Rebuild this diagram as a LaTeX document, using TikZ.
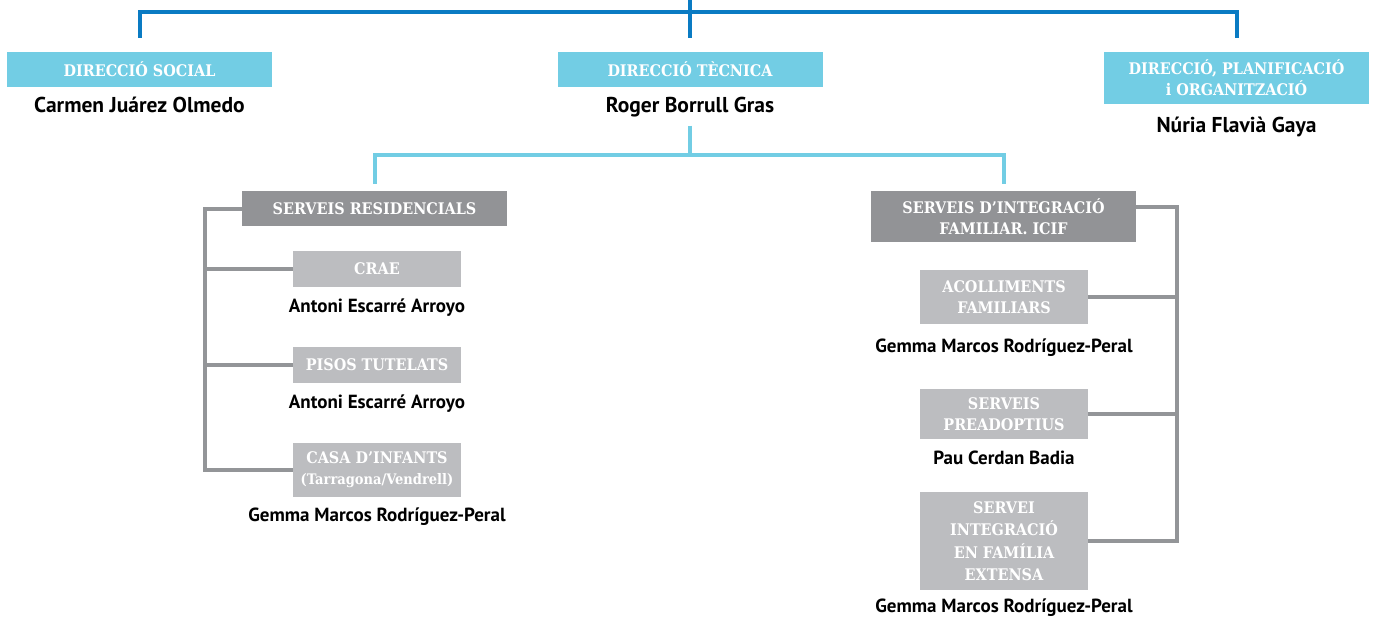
\documentclass[tikz,border=0pt]{standalone}
\usepackage{fontspec}
\setmainfont{PT Sans}
\newfontfamily\boxfont{DejaVu Serif Condensed}
\usetikzlibrary{positioning}
\definecolor{topblue}{HTML}{0A7BC3}
\definecolor{cyanbox}{HTML}{72CDE4}
\definecolor{darkbox}{HTML}{929396}
\definecolor{lightbox}{HTML}{BCBDC0}
\definecolor{linegray}{HTML}{939598}
\begin{document}
\begin{tikzpicture}[x=1pt,y=-1pt,
  head/.style={rectangle,fill=cyanbox,text=white,inner sep=0pt,align=center,
    minimum width=265pt,minimum height=35pt,
    font=\boxfont\bfseries\fontsize{16}{21}\selectfont},
  area/.style={head,fill=darkbox},
  unit/.style={head,fill=lightbox,minimum width=168pt,minimum height=36pt},
  who/.style={inner sep=0pt,font=\bfseries\fontsize{21.5}{24}\selectfont},
  staff/.style={who,font=\bfseries\fontsize{19}{22}\selectfont},
  topline/.style={draw=topblue,line width=4pt},
  midline/.style={draw=cyanbox,line width=4pt},
  grayline/.style={draw=linegray,line width=4pt}
  ]
  \useasboundingbox (0,0) rectangle (1375,618);
  % directions
  \node [head] (soc) at (139.5,69.5) {DIRECCIÓ SOCIAL};
  \node [head] (tec) at (690,69.5) {DIRECCIÓ TÈCNICA};
  \node [head,minimum height=52pt] (pla) at (1236.5,78) {DIRECCIÓ, PLANIFICACIÓ\\i ORGANITZACIÓ};
  \node [who,below=10pt of soc] (carmen) {Carmen Juárez Olmedo};
  \node [who,below=10pt of tec] (roger) {Roger Borrull Gras};
  \node [who,below=13pt of pla] (nuria) {Núria Flavià Gaya};
  % services
  \node [area] (res) at (374.5,208.5) {SERVEIS RESIDENCIALS};
  \node [area,minimum height=51pt] (icif) at (1003.5,216.5) {SERVEIS D’INTEGRACIÓ\\FAMILIAR. ICIF};
  \node [unit] (crae) at (377,269) {CRAE};
  \node [unit] (pisos) at (377,365) {PISOS TUTELATS};
  \node [unit,minimum height=54pt] (casa) at (377,470)
        {CASA D’INFANTS\\{\fontsize{14.5}{21}\selectfont(Tarragona/Vendrell)}};
  \node [unit,minimum height=54pt] (acoll) at (1004,297) {ACOLLIMENTS\\FAMILIARS};
  \node [unit,minimum height=50pt] (preadop) at (1004,414) {SERVEIS\\PREADOPTIUS};
  \node [unit,minimum height=98pt,font=\boxfont\bfseries\fontsize{16}{22.5}\selectfont]
        (ext) at (1004,541) {SERVEI\\INTEGRACIÓ\\EN FAMÍLIA\\EXTENSA};
  \node [staff,below=11pt of crae] (antoni1) {Antoni Escarré Arroyo};
  \node [staff,below=11pt of pisos] (antoni2) {Antoni Escarré Arroyo};
  \node [staff,below=10pt of casa] (gemma1) {Gemma Marcos Rodríguez-Peral};
  \node [staff,below=14pt of acoll] (gemma2) {Gemma Marcos Rodríguez-Peral};
  \node [staff,below=12pt of preadop] (pau) {Pau Cerdan Badia};
  \node [staff,below=8pt of ext] (gemma3) {Gemma Marcos Rodríguez-Peral};
  % connectors
  \coordinate (root) at (690,0);
  \coordinate (bar) at (690,12);
  \coordinate (fork) at (690,155);
  \coordinate (lspine) at (205,208.5);
  \coordinate (rspine) at (1177,207);
  \draw [topline,shorten >=14pt] (root) -- (tec.north);
  \draw [topline,shorten <=14pt,shorten >=14pt] (soc.north) |- (bar) -| (pla.north);
  \draw [midline,shorten <=8pt] (roger.south) -- (fork);
  \draw [midline,shorten <=7pt,shorten >=7pt] (res.north) |- (fork) -| (icif.north);
  \draw [grayline] (res.west) -- (lspine) |- (casa.west);
  \draw [grayline] (crae.west) -- (crae.west -| lspine);
  \draw [grayline] (pisos.west) -- (pisos.west -| lspine);
  \draw [grayline] ([yshift=9.5pt]icif.east) -- (rspine) |- (ext.east);
  \draw [grayline] (acoll.east) -- (acoll.east -| rspine);
  \draw [grayline] (preadop.east) -- (preadop.east -| rspine);
\end{tikzpicture}
\end{document}
